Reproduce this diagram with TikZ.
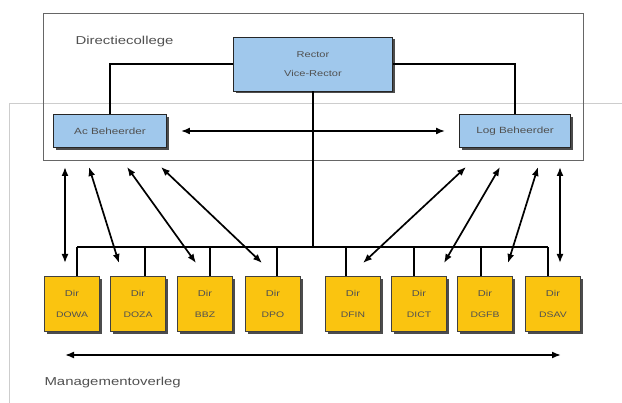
\documentclass[tikz,border=0pt]{standalone}
\usepackage{fontspec}
\setmainfont{Liberation Sans}
\usetikzlibrary{arrows.meta}
\usetikzlibrary{shadows}
\definecolor{lichtblauw}{RGB}{160,200,236}
\definecolor{dirgeel}{RGB}{250,196,16}
\definecolor{kadergrijs}{RGB}{205,205,205}
\definecolor{tekstgrijs}{RGB}{80,80,80}
\newcommand\breed[1]{\scalebox{1.3}[1]{#1}}
\tikzset{
  schaduw/.style={drop shadow={shadow xshift=2.5pt,shadow yshift=-2.5pt,fill=black!70,opacity=1}},
  blauwbox/.style={draw=black!85, line width=0.9pt, fill=lichtblauw, schaduw, text=tekstgrijs, align=center, inner sep=0pt},
  dir/.style={draw=black!75, line width=0.8pt, fill=dirgeel, schaduw, text=tekstgrijs, align=center, inner sep=0pt,
    minimum width=55pt, minimum height=55pt, font=\fontsize{8.5}{12}\selectfont},
  lijn/.style={line width=1.4pt},
  pijl/.style={{Latex[length=9pt,width=7pt]}-{Latex[length=9pt,width=7pt]}, line width=1.7pt}
}
% naam, x, afkorting, verschuiving aftakking
\newcommand\dirbox[4]{
\node[dir] (#1) at (#2,304) {\breed{Dir}\\[9pt]{\fontsize{8}{9}\selectfont\breed{#3}}};
\draw[lijn] ([xshift=#4pt]#1.north) -- ([xshift=#4pt]#1.north |- bus);
}

\begin{document}
\begin{tikzpicture}[x=1pt,y=-1pt]
\useasboundingbox (0,0) rectangle (622,403);

% grijs kader managementoverleg
\draw[kadergrijs, line width=1pt] (622,104) -- (9,104) -- (9,403);

% directiecollege
\node[draw=black!60, line width=0.9pt, minimum width=540pt, minimum height=147pt, inner sep=0pt] (college) at (313,86.5) {};
\node[anchor=west, text=tekstgrijs, font=\fontsize{11.5}{13}\selectfont] (collegetekst) at (72,42) {\breed{Directiecollege}};
\node[blauwbox, minimum width=159pt, minimum height=54pt, font=\fontsize{8.5}{12}\selectfont] (rector) at (313,64) {\breed{Rector}\\[7pt]\breed{Vice-Rector}};
\node[blauwbox, minimum width=113pt, minimum height=33pt, font=\fontsize{9}{10}\selectfont] (ac) at (110,131) {\breed{Ac Beheerder}};
\node[blauwbox, minimum width=111pt, minimum height=33pt, font=\fontsize{9}{10}\selectfont] (log) at (515,131) {\breed{Log Beheerder}};

\draw[lijn] (rector.west) -| (ac.north);
\draw[lijn] (rector.east) -| (log.north);
\draw[pijl, shorten <=14pt, shorten >=14pt] (ac.east) -- (log.west);

% directies
\coordinate (bus) at (313,247);
\dirbox{dowa}{72}{DOWA}{5}
\dirbox{doza}{138}{DOZA}{7}
\dirbox{bbz}{205}{BBZ}{5}
\dirbox{dpo}{273}{DPO}{4}
\dirbox{dfin}{353}{DFIN}{-7}
\dirbox{dict}{419}{DICT}{-5}
\dirbox{dgfb}{485}{DGFB}{-4}
\dirbox{dsav}{553}{DSAV}{-5}
\draw[lijn] ([xshift=5pt]dowa.north |- bus) -- ([xshift=-5pt]dsav.north |- bus);
\draw[lijn] (rector.south) -- (bus);

% pijlen naar de beheerders
\foreach \i/\xa/\xb in {1/65/65, 2/89/119, 3/127/196, 4/161/262, 5/466/363, 6/500/444, 7/538/508, 8/560/560}{
  \coordinate (boven\i) at (\xa,167);
  \coordinate (onder\i) at (\xb,263);
  \draw[pijl] (boven\i) -- (onder\i);
}

% managementoverleg
\coordinate (links) at (65,355);
\coordinate (rechts) at (561,355);
\draw[pijl] (links) -- (rechts);
\node[anchor=west, text=tekstgrijs, font=\fontsize{11.5}{13}\selectfont] (overlegtekst) at (41,383) {\breed{Managementoverleg}};
\end{tikzpicture}
\end{document}
